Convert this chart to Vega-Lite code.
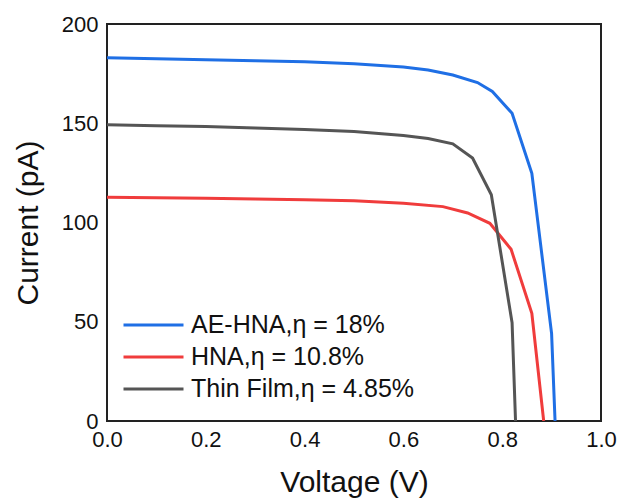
{
  "$schema": "https://vega.github.io/schema/vega-lite/v6.json",
  "autosize": "none",
  "width": 494,
  "height": 397,
  "padding": {"left": 107, "top": 24, "right": 16, "bottom": 77},
  "background": "white",
  "config": {
    "font": "Liberation Sans",
    "view": {"stroke": "#222222", "strokeWidth": 2},
    "axis": {"grid": false, "domain": false, "ticks": false, "labelFontSize": 22, "labelColor": "#111111", "titleFontSize": 30, "titleFontWeight": "normal", "titleColor": "#111111", "labelFlush": false, "labelOverlap": false}
  },
  "data": {"values": [
    {"series": "AE-HNA,η = 18%", "v": 0.0, "i": 183.0},
    {"series": "AE-HNA,η = 18%", "v": 0.1, "i": 182.5},
    {"series": "AE-HNA,η = 18%", "v": 0.2, "i": 182.0},
    {"series": "AE-HNA,η = 18%", "v": 0.3, "i": 181.5},
    {"series": "AE-HNA,η = 18%", "v": 0.4, "i": 181.0},
    {"series": "AE-HNA,η = 18%", "v": 0.5, "i": 180.0},
    {"series": "AE-HNA,η = 18%", "v": 0.6, "i": 178.3},
    {"series": "AE-HNA,η = 18%", "v": 0.65, "i": 176.8},
    {"series": "AE-HNA,η = 18%", "v": 0.7, "i": 174.3},
    {"series": "AE-HNA,η = 18%", "v": 0.75, "i": 170.5},
    {"series": "AE-HNA,η = 18%", "v": 0.78, "i": 166.0},
    {"series": "AE-HNA,η = 18%", "v": 0.82, "i": 155.0},
    {"series": "AE-HNA,η = 18%", "v": 0.86, "i": 124.8},
    {"series": "AE-HNA,η = 18%", "v": 0.9, "i": 44.0},
    {"series": "AE-HNA,η = 18%", "v": 0.907, "i": 0.0},
    {"series": "HNA,η = 10.8%", "v": 0.0, "i": 112.7},
    {"series": "HNA,η = 10.8%", "v": 0.1, "i": 112.5},
    {"series": "HNA,η = 10.8%", "v": 0.2, "i": 112.2},
    {"series": "HNA,η = 10.8%", "v": 0.3, "i": 111.9},
    {"series": "HNA,η = 10.8%", "v": 0.4, "i": 111.5},
    {"series": "HNA,η = 10.8%", "v": 0.5, "i": 110.9},
    {"series": "HNA,η = 10.8%", "v": 0.6, "i": 109.7},
    {"series": "HNA,η = 10.8%", "v": 0.68, "i": 108.0},
    {"series": "HNA,η = 10.8%", "v": 0.73, "i": 104.8},
    {"series": "HNA,η = 10.8%", "v": 0.775, "i": 99.6},
    {"series": "HNA,η = 10.8%", "v": 0.818, "i": 86.5},
    {"series": "HNA,η = 10.8%", "v": 0.86, "i": 54.3},
    {"series": "HNA,η = 10.8%", "v": 0.884, "i": 0.0},
    {"series": "Thin Film,η = 4.85%", "v": 0.0, "i": 149.2},
    {"series": "Thin Film,η = 4.85%", "v": 0.1, "i": 148.8},
    {"series": "Thin Film,η = 4.85%", "v": 0.2, "i": 148.3},
    {"series": "Thin Film,η = 4.85%", "v": 0.3, "i": 147.6},
    {"series": "Thin Film,η = 4.85%", "v": 0.4, "i": 146.8},
    {"series": "Thin Film,η = 4.85%", "v": 0.5, "i": 145.8},
    {"series": "Thin Film,η = 4.85%", "v": 0.6, "i": 143.8},
    {"series": "Thin Film,η = 4.85%", "v": 0.65, "i": 142.3},
    {"series": "Thin Film,η = 4.85%", "v": 0.7, "i": 139.6},
    {"series": "Thin Film,η = 4.85%", "v": 0.74, "i": 132.5},
    {"series": "Thin Film,η = 4.85%", "v": 0.778, "i": 114.0},
    {"series": "Thin Film,η = 4.85%", "v": 0.82, "i": 49.5},
    {"series": "Thin Film,η = 4.85%", "v": 0.827, "i": 0.0}
  ]},
  "mark": {"type": "line", "strokeWidth": 3, "clip": true},
  "encoding": {
    "x": {"field": "v", "type": "quantitative", "scale": {"domain": [0, 1], "nice": false, "zero": false},
      "axis": {"values": [0, 0.2, 0.4, 0.6, 0.8, 1.0], "format": ".1f", "title": "Voltage (V)", "labelPadding": 8, "titlePadding": 17}},
    "y": {"field": "i", "type": "quantitative", "scale": {"domain": [0, 200], "nice": false},
      "axis": {"values": [0, 50, 100, 150, 200], "title": "Current (pA)", "labelPadding": 9, "titlePadding": 18}},
    "color": {"field": "series", "type": "nominal",
      "scale": {"domain": ["AE-HNA,η = 18%", "HNA,η = 10.8%", "Thin Film,η = 4.85%"], "range": ["#1f6fe5", "#f03c3c", "#555555"]},
      "legend": {"title": null, "orient": "none", "legendX": 15, "legendY": 285, "padding": 0,
        "symbolType": "stroke", "symbolSize": 3600, "symbolStrokeWidth": 3, "clipHeight": 32, "rowPadding": 0,
        "labelFontSize": 25, "labelColor": "#111111", "labelOffset": 6, "labelLimit": 400}},
    "order": {"field": "v", "type": "quantitative"}
  }
}
